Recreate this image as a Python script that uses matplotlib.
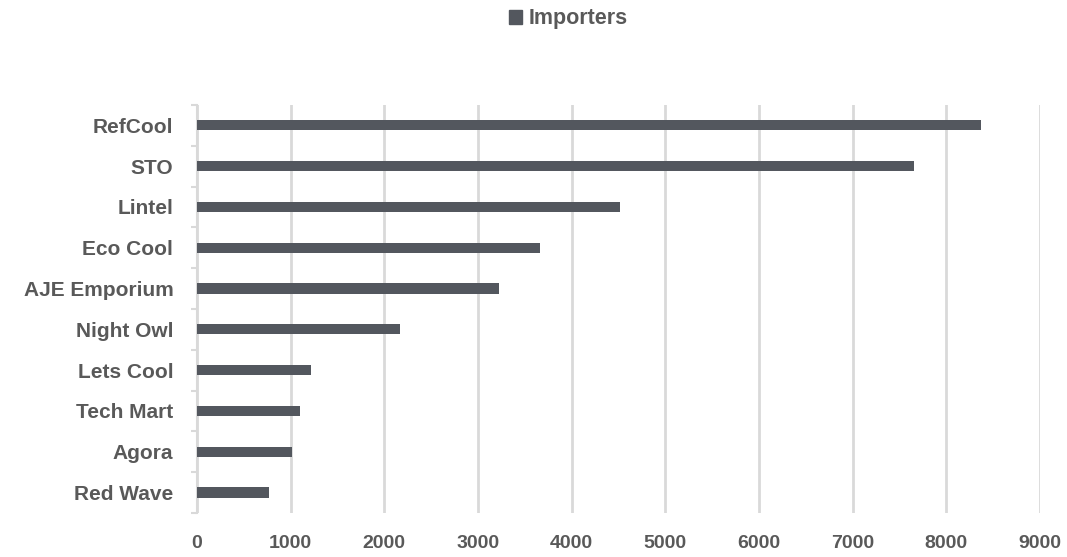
import matplotlib
matplotlib.use("Agg")
import matplotlib.pyplot as plt
from matplotlib.patches import Patch

plt.rcParams['font.family'] = ['Liberation Sans', 'DejaVu Sans']

# data (top to bottom as shown)
companies = ["RefCool", "STO", "Lintel", "Eco Cool", "AJE Emporium",
             "Night Owl", "Lets Cool", "Tech Mart", "Agora", "Red Wave"]
importers = [8370, 7650, 4520, 3660, 3220, 2170, 1220, 1100, 1010, 770]
x_ticks = [0, 1000, 2000, 3000, 4000, 5000, 6000, 7000, 8000, 9000]

bar_color = "#53575e"
text_color = "#595959"
grid_color = "#d9d9d9"

fig = plt.figure(figsize=(10.67, 5.57), dpi=100)
ax = fig.add_axes([0.1846, 0.079, 0.7901, 0.7325])

ypos = list(range(len(companies)))[::-1]
ax.barh(ypos, importers, height=0.25, color=bar_color, zorder=3)

ax.set_xlim(0, 9000)
ax.set_ylim(-0.5, len(companies) - 0.5)
ax.set_xticks(x_ticks)
ax.set_xticklabels([str(t) for t in x_ticks], fontsize=14, fontweight='bold', color=text_color)
ax.set_yticks(ypos)
ax.set_yticklabels(companies, fontsize=15, fontweight='bold', color=text_color)

# category boundary ticks on the y axis
ax.set_yticks([i - 0.5 for i in range(len(companies) + 1)], minor=True)
ax.tick_params(axis='y', which='major', length=0, pad=17)
ax.tick_params(axis='y', which='minor', length=4, width=1.5, color=grid_color)
ax.tick_params(axis='x', which='both', length=0, pad=16)

ax.grid(axis='x', color=grid_color, linewidth=2, zorder=0)
for s in ['top', 'right', 'bottom']:
    ax.spines[s].set_visible(False)
ax.spines['left'].set_color(grid_color)
ax.spines['left'].set_linewidth(1.5)

fig.legend(handles=[Patch(color=bar_color, label="Importers")],
           loc='center', bbox_to_anchor=(0.533, 0.966), frameon=False,
           handlelength=0.6, handleheight=0.6, handletextpad=0.3,
           prop={'size': 15.5, 'weight': 'bold'}, labelcolor=text_color)

fig.savefig("out.png", dpi=100)
